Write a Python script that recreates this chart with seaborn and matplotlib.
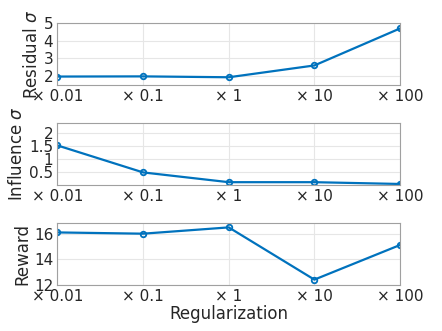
import matplotlib
matplotlib.use("Agg")
import matplotlib.pyplot as plt
import seaborn as sns
import pandas as pd
import numpy as np

reg = [0.01, 0.1, 1, 10, 100]
tick_labels = ["× 0.01", "× 0.1", "× 1", "× 10", "× 100"]
residual = [1.97, 1.98, 1.93, 2.6, 4.7]
influence = [1.53, 0.48, 0.10, 0.10, 0.03]
reward = [16.15, 16.05, 16.55, 12.4, 15.15]

sns.set_theme(style="whitegrid")
plt.rcParams['font.family'] = ['DejaVu Sans']

color = "#0072BD"
fig, axes = plt.subplots(3, 1, figsize=(4.42, 3.31), dpi=100)
fig.subplots_adjust(left=0.13, right=0.905, top=0.93, bottom=0.14, hspace=0.62)

specs = [
    (residual, "Residual $\\sigma$", (1.5, 5), [2, 3, 4, 5], ["2", "3", "4", "5"]),
    (influence, "Influence $\\sigma$", (0, 2.4), [0.5, 1, 1.5, 2], ["0.5", "1", "1.5", "2"]),
    (reward, "Reward", (12, 16.9), [12, 14, 16], ["12", "14", "16"]),
]

for ax, (vals, lab, ylim, yt, ytl) in zip(axes, specs):
    df = pd.DataFrame({"reg": reg, "val": vals})
    sns.lineplot(data=df, x="reg", y="val", ax=ax, color=color, linewidth=1.6,
                 marker="o", markersize=4, markerfacecolor="none",
                 markeredgecolor=color, markeredgewidth=1.3)
    ax.set_xscale("log")
    ax.set_xlim(0.01, 100)
    ax.set_ylim(*ylim)
    ax.set_xticks(reg)
    ax.set_xticklabels(tick_labels)
    ax.minorticks_off()
    ax.set_yticks(yt)
    ax.set_yticklabels(ytl)
    ax.set_ylabel(lab, fontsize=12, color="#262626", labelpad=2)
    ax.set_xlabel("")
    ax.tick_params(axis="both", labelsize=11, colors="#262626", direction="in",
                   length=3, pad=3)
    ax.grid(True, color="#e6e6e6", linewidth=0.8)
    for s in ax.spines.values():
        s.set_color("#a0a0a0")
        s.set_linewidth(0.8)
        s.set_visible(True)

axes[2].set_xlabel("Regularization", fontsize=12, color="#262626", labelpad=1)
fig.savefig("out.png", dpi=100)
